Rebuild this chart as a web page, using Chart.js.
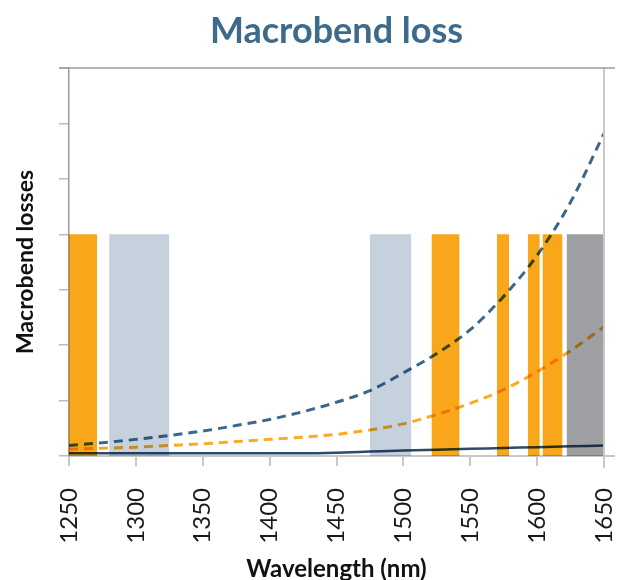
<!DOCTYPE html>
<html>
<head>
<meta charset="utf-8">
<script src="https://cdn.jsdelivr.net/npm/chart.js@4.4.0/dist/chart.umd.min.js"></script>
<style>
html,body{margin:0;padding:0;background:#fff;}
#wrap{width:627px;height:580px;}
</style>
</head>
<body>
<div id="wrap"><canvas id="c" width="627" height="580"></canvas></div>
<script>
// ---- data ----
const xTicks = [1250,1300,1350,1400,1450,1500,1550,1600,1650];
const wavelengths = [1250,1275,1300,1325,1350,1375,1400,1425,1450,1475,1500,1525,1550,1575,1600,1625,1650];
const lossBlueDashed = [0.19,0.24,0.30,0.37,0.45,0.55,0.66,0.80,0.97,1.18,1.50,1.85,2.28,2.88,3.62,4.58,5.82];
const lossOrangeDashed = [0.12,0.14,0.16,0.19,0.22,0.26,0.30,0.34,0.39,0.47,0.58,0.75,0.95,1.20,1.52,1.90,2.33];
const lossSolid = [0.05,0.05,0.05,0.05,0.05,0.05,0.05,0.05,0.06,0.08,0.10,0.115,0.13,0.145,0.16,0.175,0.19];
const bandStart = [1250,1280,1475,1521,1570,1593,1604,1622];
const bandEnd   = [1271,1325,1506,1542,1579,1602,1619,1650];
const bandKind  = ['orange','blue','blue','orange','orange','orange','orange','gray'];
const bandTop = 4;
const yMax = 7;

const kindColor = {orange:'#f9a61a', blue:'#c5d2de', gray:'#9e9fa2'};

const datasets = [];
bandStart.forEach((s,i)=>{
  datasets.push({
    type:'line',
    data:[{x:s,y:bandTop},{x:bandEnd[i],y:bandTop}],
    borderWidth:0, borderColor:'rgba(0,0,0,0)',
    backgroundColor:kindColor[bandKind[i]],
    fill:'origin', pointRadius:0, tension:0
  });
});
function series(vals){ return wavelengths.map((w,i)=>({x:w,y:vals[i]})); }
datasets.push({type:'line',data:series(lossSolid),borderColor:'#2d4b69',borderWidth:2.5,pointRadius:0,fill:false,cubicInterpolationMode:'monotone'});
datasets.push({type:'line',data:series(lossOrangeDashed),borderColor:'#fbaa22',borderWidth:3,borderDash:[9,6],pointRadius:0,fill:false,cubicInterpolationMode:'monotone'});
datasets.push({type:'line',data:series(lossBlueDashed),borderColor:'#3b678c',borderWidth:3,borderDash:[9,6],pointRadius:0,fill:false,cubicInterpolationMode:'monotone'});

const framePlugin = {
  id:'frame',
  beforeDraw(chart){
    const c=chart.ctx; c.save(); c.fillStyle='#fff'; c.fillRect(0,0,chart.width,chart.height); c.restore();
  },
  beforeDatasetsDraw(chart){ chart.ctx.save(); chart.ctx.globalCompositeOperation='multiply'; },
  afterDatasetsDraw(chart){ chart.ctx.restore(); },
  afterDraw(chart){
    const c=chart.ctx, a=chart.chartArea;
    c.save();
    c.strokeStyle='#c8c8c8'; c.lineWidth=2;
    c.beginPath(); c.moveTo(a.right,a.top); c.lineTo(a.right,a.bottom+12); c.stroke();
    c.beginPath(); c.moveTo(a.right,a.bottom); c.lineTo(a.right+11,a.bottom); c.stroke();
    c.strokeStyle='#9a9a9a'; c.lineWidth=1.5;
    c.beginPath(); c.moveTo(a.left-10,a.top); c.lineTo(a.right+11,a.top); c.stroke();
    c.fillStyle='#3e6a8b';
    c.font='bold 36px Lato';
    c.textAlign='center'; c.textBaseline='alphabetic';
    c.fillText('Macrobend loss',(a.left+a.right)/2,43);
    c.restore();
  }
};

new Chart(document.getElementById('c'),{
  data:{datasets},
  options:{
    responsive:false, animation:false,
    layout:{padding:{top:68,right:23,left:0,bottom:0}},
    plugins:{legend:{display:false},tooltip:{enabled:false},title:{display:false}},
    scales:{
      x:{
        type:'linear', min:1250, max:1650,
        afterBuildTicks(scale){ scale.ticks = xTicks.map(v=>({value:v})); },
        afterFit(scale){ scale.height = 124; scale.paddingRight = 0; scale.paddingLeft = 0; },
        ticks:{minRotation:90,maxRotation:90,padding:22,color:'#1a1a1a',font:{family:'Lato',size:24,weight:'normal'},callback:v=>String(v)},
        grid:{drawOnChartArea:false,tickLength:10,color:'#c8c8c8',lineWidth:2},
        border:{color:'#c8c8c8',width:2},
        title:{display:true,text:'Wavelength (nm)',color:'#111',font:{family:'Lato',size:24,weight:'bold'},padding:{top:0,bottom:-4}}
      },
      y:{
        type:'linear', min:0, max:yMax,
        ticks:{stepSize:1,callback:()=> '',padding:0},
        afterFit(scale){ scale.width = 69; scale.paddingTop = 0; scale.paddingBottom = 0; },
        grid:{drawOnChartArea:false,tickLength:10,color:'#bdbdbd',lineWidth:1.5},
        border:{color:'#9a9a9a',width:1.5},
        title:{display:true,text:'Macrobend losses',color:'#111',font:{family:'Lato',size:23,weight:'bold'},padding:{top:12,bottom:0}}
      }
    }
  },
  plugins:[framePlugin]
});
</script>
</body>
</html>
